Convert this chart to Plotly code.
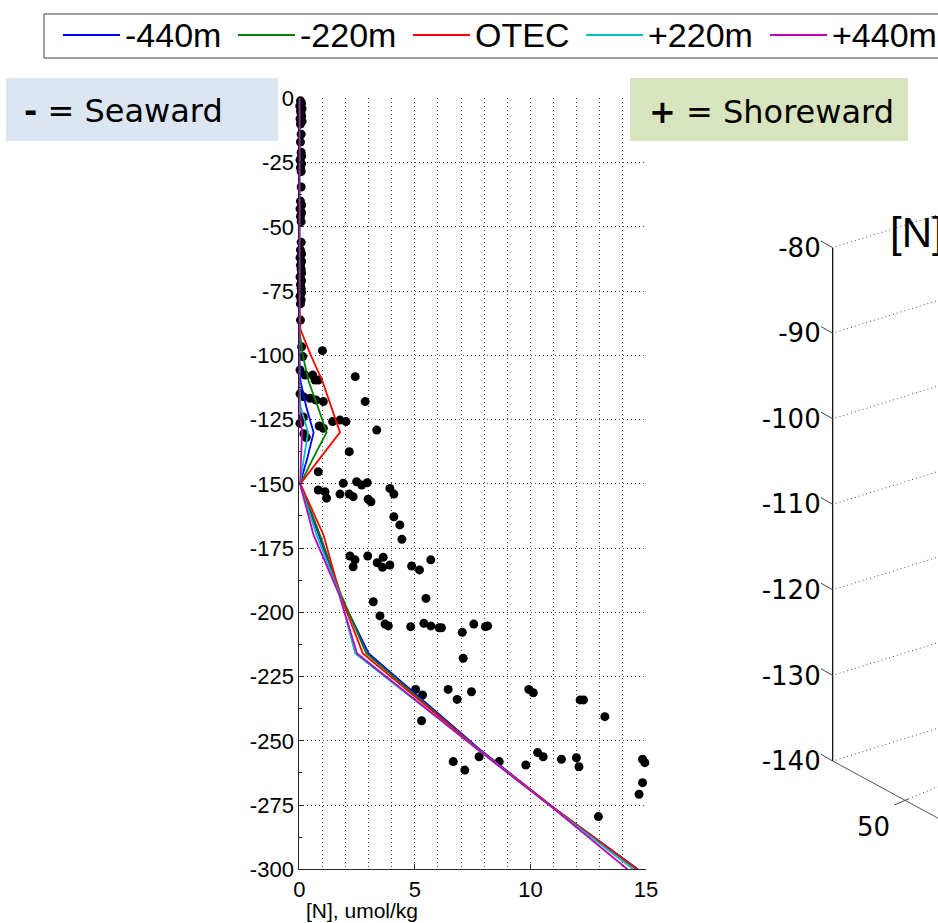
import plotly.graph_objects as go

W, H = 938, 923

# ---------------- data ----------------
series_names = ["-440m", "-220m", "OTEC", "+220m", "+440m"]
series_colors = ["#0000ff", "#008000", "#ff0000", "#00bfbf", "#bf00bf"]

# modelled nitrate profiles, umol/kg vs depth (m)
model_depth = [0, -80, -90, -100, -110, -120, -130, -140, -150, -170, -193, -216, -254, -276, -300]
n_m440 = [0, 0, 0, 0, 0.05, 0.30, 0.62, 0.35, 0.03, 0.85, 1.75, 3.00, 7.90, 11.00, 14.65]
n_m220 = [0, 0, 0, 0.15, 0.40, 0.80, 1.18, 0.60, 0.05, 0.90, 1.80, 2.90, 7.85, 11.00, 14.60]
n_otec = [0, 0, 0.05, 0.50, 1.00, 1.38, 1.76, 0.90, 0.05, 1.05, 1.76, 2.75, 7.85, 11.00, 14.60]
n_p220 = [0, 0, 0, 0, 0, 0.05, 0.38, 0.20, 0.03, 0.75, 1.75, 2.42, 7.80, 10.95, 14.45]
n_p440 = [0, 0, 0, 0, 0, 0, 0.12, 0.08, 0.03, 0.62, 1.72, 2.50, 7.80, 10.95, 14.20]
model_n = [n_m440, n_m220, n_otec, n_p220, n_p440]

# observed nitrate samples
obs_n = [
    0.05, 0.10, 0.02, 0.12, 0.05, 0.08, 0.10, 0.03, 0.12, 0.05, 0.08, 0.05, 0.08, 0.10,
    0.03, 0.10, 0.05, 0.08, 0.08, 0.05, 0.10, 0.03, 0.10, 0.05, 0.08, 0.08, 0.05, 0.10,
    0.03, 0.10, 0.05, 0.08, 0.10, 0.03, 0.10, 0.05, 0.08, 0.10, 0.03, 0.08, 0.05, 0.05,
    0.10, 1.00, 0.15, 0.03, 0.25, 0.58, 0.68, 0.82, 2.42, 2.85, 0.03, 0.17, 0.46, 0.72,
    1.04, 0.17, 0.03, 0.86, 1.04, 1.44, 1.76, 2.02, 3.35, 0.20, 0.30, 2.16, 0.82,
    1.90, 2.48, 2.70, 2.94, 0.82, 1.11, 1.18, 1.76, 2.16, 2.33, 2.98, 3.10, 3.92, 4.09,
    4.09, 4.35, 4.44,
    2.19, 2.41, 2.33, 2.96, 3.37, 3.63, 3.60, 3.92, 4.86, 5.20, 5.69,
    3.20, 5.48, 3.49, 3.71, 3.85, 4.82, 5.39, 5.69, 6.05, 6.15, 7.05, 7.55, 8.05, 8.15, 7.09,
    5.03, 5.33, 6.44, 6.83, 7.45, 5.29, 9.93, 10.12, 12.15, 12.30, 13.22, 6.66, 7.16, 7.78,
    8.65, 9.80, 10.31, 10.55, 11.34, 11.99, 12.10, 14.85, 14.95, 14.85, 14.70, 12.94,
]
obs_depth = [
    -1, -2, -3, -4, -5, -6, -7, -8, -9, -10, -14, -17, -21, -22.5,
    -24, -25.5, -27, -28.5, -34.5, -40, -41.5, -43, -44.5, -46, -48, -56, -59, -60.5,
    -62, -63.5, -65, -66.5, -68, -69.5, -71, -72.5, -74, -75.5, -77, -78.5, -80, -86.3,
    -96.7, -98.2, -100.5, -105.7, -107.7, -107.7, -109.6, -109.6, -108.3, -118, -115, -116.1, -116.7, -117.4,
    -118, -124, -126.5, -127.5, -128.4, -125.8, -125.2, -125.8, -129.1, -130.5, -132, -137.5, -145.3,
    -149.8, -149.2, -150.5, -149.6, -152.4, -153.1, -155.6, -154, -154, -155, -156, -157, -151.8, -154,
    -162.8, -166, -171.6,
    -178.1, -179.6, -182.3, -178.1, -180.7, -178.6, -182.5, -181.6, -182, -183.5, -179.6,
    -195.9, -194.6, -201.4, -204.6, -205.3, -205.6, -204.3, -205.3, -206, -206, -207.8, -204.6, -205.6, -205.3, -217.9,
    -230, -232.2, -230, -233.9, -230.9, -242.2, -230, -231.3, -234.1, -234.1, -240.6, -258.1, -261.4, -256.2,
    -258.1, -259.4, -254.6, -256.2, -257.2, -256.6, -260.1, -257.2, -258.5, -266.3, -270.8, -279.5,
]

x_ticks = [0, 5, 10, 15]
y_ticks = [0, -25, -50, -75, -100, -125, -150, -175, -200, -225, -250, -275, -300]
z_ticks = [-80, -90, -100, -110, -120, -130, -140]
y_label_3d = 50


def tick_text(vals):
    # plain hyphen-minus labels
    return [str(v) for v in vals]


def px(x):
    return x / W


def py(y):
    return 1 - y / H


FONT = "Liberation Sans, Arial, sans-serif"
WIDE = "DejaVu Sans, Verdana, sans-serif"
GRID = "#4a4a4a"

fig = go.Figure()

# observations first, profiles on top
fig.add_trace(go.Scatter(
    x=obs_n, y=obs_depth, mode="markers",
    marker=dict(color="black", size=9, line=dict(width=0)),
    cliponaxis=False, showlegend=False, hoverinfo="skip",
))
for name, col, vals in zip(series_names, series_colors, model_n):
    fig.add_trace(go.Scatter(
        x=vals, y=model_depth, mode="lines", name=name,
        line=dict(color=col, width=1.8), showlegend=False,
    ))

# ---------------- left 2-D axes ----------------
x0_px, x1_px = 299.3, 646.0
ytop_px, ybot_px = 98.3, 869.3

fig.update_layout(
    width=W, height=H,
    margin=dict(l=0, r=0, t=0, b=0, autoexpand=False),
    paper_bgcolor="white", plot_bgcolor="white",
    font=dict(family=FONT, color="black"),
    showlegend=False,
    xaxis=dict(
        domain=[px(x0_px), px(x1_px)], range=[0, 15], anchor="y", automargin=False,
        tickmode="array", tickvals=x_ticks, ticktext=tick_text(x_ticks),
        ticks="inside", ticklen=5, tickcolor="#262626",
        showline=True, linecolor="#262626", linewidth=1,
        showgrid=True, gridcolor=GRID, gridwidth=1, griddash="1px,3px",
        minor=dict(tick0=0, dtick=1, showgrid=True, gridcolor=GRID, griddash="1px,3px", ticks=""),
        zeroline=False, tickfont=dict(size=22, family=FONT, color="black"),
    ),
    yaxis=dict(
        domain=[py(ybot_px), py(ytop_px)], range=[-300, 0], anchor="x", automargin=False,
        tickmode="array", tickvals=y_ticks, ticktext=tick_text(y_ticks),
        ticks="inside", ticklen=5, tickcolor="#262626",
        showline=True, linecolor="#262626", linewidth=1,
        showgrid=True, gridcolor=GRID, gridwidth=1, griddash="1px,3px",
        minor=dict(tick0=0, dtick=12.5, ticks="inside", ticklen=3, tickcolor="#262626", showgrid=False),
        zeroline=False, tickfont=dict(size=22, family=FONT, color="black"),
    ),
)

# ---------------- right 3-D style depth frame ----------------
zx_px = 832.7            # vertical axis position
z_top_px, z_bot_px = 247.7, 761.0
ppu = (z_bot_px - z_top_px) / 60.0
frame_top, frame_bot = 200.0, 845.0
z_hi = -80 + (z_top_px - frame_top) / ppu
z_lo = -140 - (frame_bot - z_bot_px) / ppu
left_pad = 24.0
right_ext = W - zx_px

fig.update_layout(
    xaxis2=dict(domain=[px(zx_px - left_pad), 1], range=[-left_pad, right_ext],
                anchor="y2", visible=False, fixedrange=True, automargin=False),
    yaxis2=dict(domain=[py(frame_bot), py(frame_top)], range=[z_lo, z_hi],
                anchor="free", position=px(zx_px), automargin=False,
                tickmode="array", tickvals=z_ticks, ticktext=tick_text(z_ticks),
                ticks="", showline=False, showgrid=False, zeroline=False,
                ticklabelstandoff=12,
                tickfont=dict(size=26, family=WIDE, color="black")),
)

shapes = []
# vertical depth axis
shapes.append(dict(type="line", xref="x2", yref="y2", x0=0, x1=0, y0=-140, y1=-80,
                   line=dict(color="black", width=1.2)))
grid_rise = 0.312
for z in z_ticks:
    shapes.append(dict(type="line", xref="x2", yref="y2",
                       x0=-11.7, y0=z + 6.7 / ppu, x1=0, y1=z,
                       line=dict(color="#444", width=1)))
    shapes.append(dict(type="line", xref="x2", yref="y2",
                       x0=3, y0=z + 3 * grid_rise / ppu,
                       x1=right_ext, y1=z + right_ext * grid_rise / ppu,
                       line=dict(color=GRID, width=1, dash="1px,3px")))
# lower front edge of the box
shapes.append(dict(type="line", xref="x2", yref="y2",
                   x0=0, y0=-140, x1=right_ext, y1=-140 - right_ext * 0.543 / ppu,
                   line=dict(color="#555", width=1)))
# horizontal-axis tick and its grid line
tick_a = (894.3 - zx_px, -140 - (805 - z_bot_px) / ppu)
tick_b = (908.3 - zx_px, -140 - (799 - z_bot_px) / ppu)
shapes.append(dict(type="line", xref="x2", yref="y2", x0=tick_a[0], y0=tick_a[1],
                   x1=tick_b[0], y1=tick_b[1], line=dict(color="#444", width=1)))
shapes.append(dict(type="line", xref="x2", yref="y2", x0=tick_b[0], y0=tick_b[1],
                   x1=right_ext, y1=-140 - (786.7 - z_bot_px) / ppu,
                   line=dict(color=GRID, width=1, dash="1px,3px")))

annotations = [
    dict(xref="x2", yref="y2", x=873.5 - zx_px, y=-140 - (827 - z_bot_px) / ppu,
         text=str(y_label_3d), showarrow=False, xanchor="center", yanchor="middle",
         font=dict(size=26, family=WIDE, color="black")),
    dict(xref="x2", yref="y2", x=888 - zx_px, y=-80 + (z_top_px - 233) / ppu,
         text="[N]", showarrow=False, xanchor="left", yanchor="middle",
         font=dict(size=42, family=FONT, color="black")),
    # x-axis title of the depth profile panel
    dict(xref="paper", yref="paper", x=px(361.5), y=py(910), text="[N], umol/kg",
         showarrow=False, xanchor="center", yanchor="middle", borderpad=0,
         font=dict(size=21, family=FONT, color="black")),
]

# ---------------- direction boxes ----------------
shapes.append(dict(type="rect", xref="paper", yref="paper", layer="above",
                   x0=px(6), x1=px(278), y0=py(141), y1=py(78),
                   fillcolor="#dce6f2", line=dict(width=0)))
shapes.append(dict(type="rect", xref="paper", yref="paper", layer="above",
                   x0=px(630), x1=px(908), y0=py(141), y1=py(78),
                   fillcolor="#d7e4bd", line=dict(width=0)))
annotations.append(dict(xref="paper", yref="paper", x=px(22), y=py(111),
                        text="<b>-</b> = Seaward", showarrow=False,
                        xanchor="left", yanchor="middle",
                        font=dict(size=32, family=WIDE, color="black")))
annotations.append(dict(xref="paper", yref="paper", x=px(647), y=py(112),
                        text="<b>+</b> = Shoreward", showarrow=False,
                        xanchor="left", yanchor="middle",
                        font=dict(size=32, family=WIDE, color="black")))

# ---------------- legend ----------------
shapes.append(dict(type="rect", xref="paper", yref="paper", layer="above",
                   x0=px(44), x1=px(960), y0=py(58), y1=py(14),
                   fillcolor="white", line=dict(color="#404040", width=1)))
legend_line_x = [63, 238, 413, 586, 770]
legend_line_len = 57
legend_y = 35
for name, col, lx in zip(series_names, series_colors, legend_line_x):
    shapes.append(dict(type="line", xref="paper", yref="paper", layer="above",
                       x0=px(lx), x1=px(lx + legend_line_len), y0=py(legend_y), y1=py(legend_y),
                       line=dict(color=col, width=2)))
    annotations.append(dict(xref="paper", yref="paper", x=px(lx + legend_line_len + 3),
                            y=py(legend_y), text=name, showarrow=False,
                            xanchor="left", yanchor="middle",
                            font=dict(size=34, family=FONT, color="black")))

fig.update_layout(shapes=shapes, annotations=annotations)

fig.write_html("out.html")
